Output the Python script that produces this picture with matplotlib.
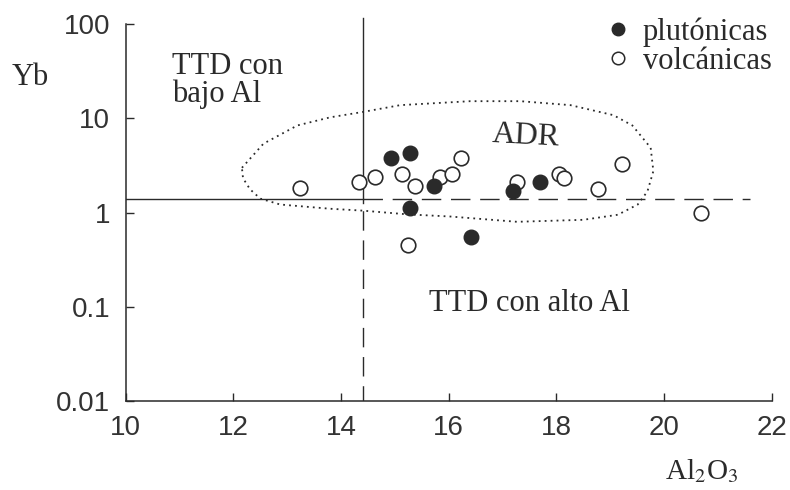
import matplotlib.pyplot as plt
from matplotlib.lines import Line2D

plt.rcParams["mathtext.fontset"] = "stix"

# Al2O3 (%) vs Yb (ppm)
plut_al = [14.93, 15.29, 15.72, 15.29, 16.42, 17.20, 17.70]
plut_yb = [3.84, 4.28, 1.94, 1.13, 0.55, 1.68, 2.10]

volc_al = [13.24, 14.33, 14.64, 15.13, 15.37, 15.83, 16.07, 16.23,
           17.26, 18.04, 18.14, 18.78, 19.22, 15.25, 20.68]
volc_yb = [1.83, 2.10, 2.38, 2.58, 1.94, 2.38, 2.58, 3.84,
           2.10, 2.54, 2.34, 1.78, 3.26, 0.45, 0.98]

# campo ADR (contorno punteado)
adr_al = [12.16, 12.56, 13.19, 13.80, 14.41, 15.10, 16.40, 17.33, 18.26,
          19.06, 19.41, 19.75, 19.80, 19.69, 19.51, 19.14, 18.50, 17.27,
          16.03, 15.23, 14.41, 13.80, 12.87, 12.50, 12.31, 12.18, 12.16]
adr_yb = [2.99, 5.39, 8.41, 10.25, 11.7, 13.8, 15.2, 15.2, 13.8,
          10.8, 8.4, 4.88, 2.76, 1.68, 1.22, 0.95, 0.84, 0.80,
          0.91, 0.96, 1.05, 1.10, 1.22, 1.41, 1.77, 2.32, 2.99]

al_lim = 14.4
yb_lim = 1.4
al_end = 21.6

xticks = [10, 12, 14, 16, 18, 20, 22]
yticks = [0.01, 0.1, 1, 10, 100]
ytick_labels = ["0.01", "0.1", "1", "10", "100"]

ink = "#2a2a2a"
serif = "Liberation Serif"
sans = "Liberation Sans"

fig = plt.figure(figsize=(7.9, 4.9), dpi=100)
ax = fig.add_axes([0.159, 0.181, 0.818, 0.770])

ax.set_yscale("log")
ax.set_xlim(10, 22)
ax.set_ylim(0.01, 100)

for s in ["top", "right"]:
    ax.spines[s].set_visible(False)
for s in ["left", "bottom"]:
    ax.spines[s].set_color(ink)
    ax.spines[s].set_linewidth(1.1)

ax.set_xticks(xticks)
ax.set_xticklabels([str(t) for t in xticks])
ax.set_yticks(yticks)
ax.set_yticklabels(ytick_labels)
ax.minorticks_off()
ax.tick_params(direction="in", length=6, width=1.0, color=ink,
               labelsize=20, labelcolor="#333333")
ax.tick_params(axis="y", pad=11)
ax.tick_params(axis="x", pad=10)
for lab in ax.get_xticklabels() + ax.get_yticklabels():
    lab.set_fontfamily(sans)

# limites de los campos
ax.plot([10, al_lim], [yb_lim, yb_lim], color=ink, lw=1.0)
ax.plot([al_lim, al_end], [yb_lim, yb_lim], color=ink, lw=1.0,
        linestyle=(0, (14, 7)))
ax.plot([al_lim, al_lim], [yb_lim * 0.9, 115], color=ink, lw=1.0,
        clip_on=False)
ax.plot([al_lim, al_lim], [0.01, yb_lim * 0.9], color=ink, lw=1.0,
        linestyle=(3, (14, 7)))

ax.plot(adr_al, adr_yb, color=ink, lw=1.3, linestyle=(0, (1, 2.3)))

ax.scatter(volc_al, volc_yb, s=110, facecolor="white", edgecolor=ink,
           linewidth=1.2, zorder=3)
ax.scatter(plut_al, plut_yb, s=110, facecolor=ink, edgecolor=ink,
           linewidth=1.0, zorder=4)

ax.text(10.86, 25, "TTD con\nbajo Al", fontsize=22, family=serif,
        color=ink, ha="left", va="center", linespacing=0.95)
ax.text(17.43, 6.4, "ADR", fontsize=23, family=serif, rotation=-3,
        color=ink, ha="center", va="center")
ax.text(17.5, 0.11, "TTD con alto Al", fontsize=22, family=serif,
        color=ink, ha="center", va="center")

ax.set_ylabel("Yb", fontsize=22, family=serif, color=ink, rotation=0,
              ha="center", va="center")
ax.yaxis.set_label_coords(-0.148, 0.858)
ax.set_xlabel(r"Al$_2$O$_3$", fontsize=21, family=serif, color=ink,
              ha="center", va="center")
ax.xaxis.set_label_coords(0.892, -0.185)

handles = [
    Line2D([], [], marker="o", linestyle="none", markersize=9,
           markerfacecolor=ink, markeredgecolor=ink),
    Line2D([], [], marker="o", linestyle="none", markersize=9,
           markerfacecolor="white", markeredgecolor=ink, markeredgewidth=1.1),
]
ax.legend(handles, ["plutónicas", "volcánicas"], loc="upper right",
          bbox_to_anchor=(1.042, 1.09), frameon=False,
          prop={"family": serif, "size": 22}, handletextpad=0.35,
          labelspacing=0.0, handlelength=0.9, labelcolor=ink)

fig.savefig("out.png", dpi=100)
